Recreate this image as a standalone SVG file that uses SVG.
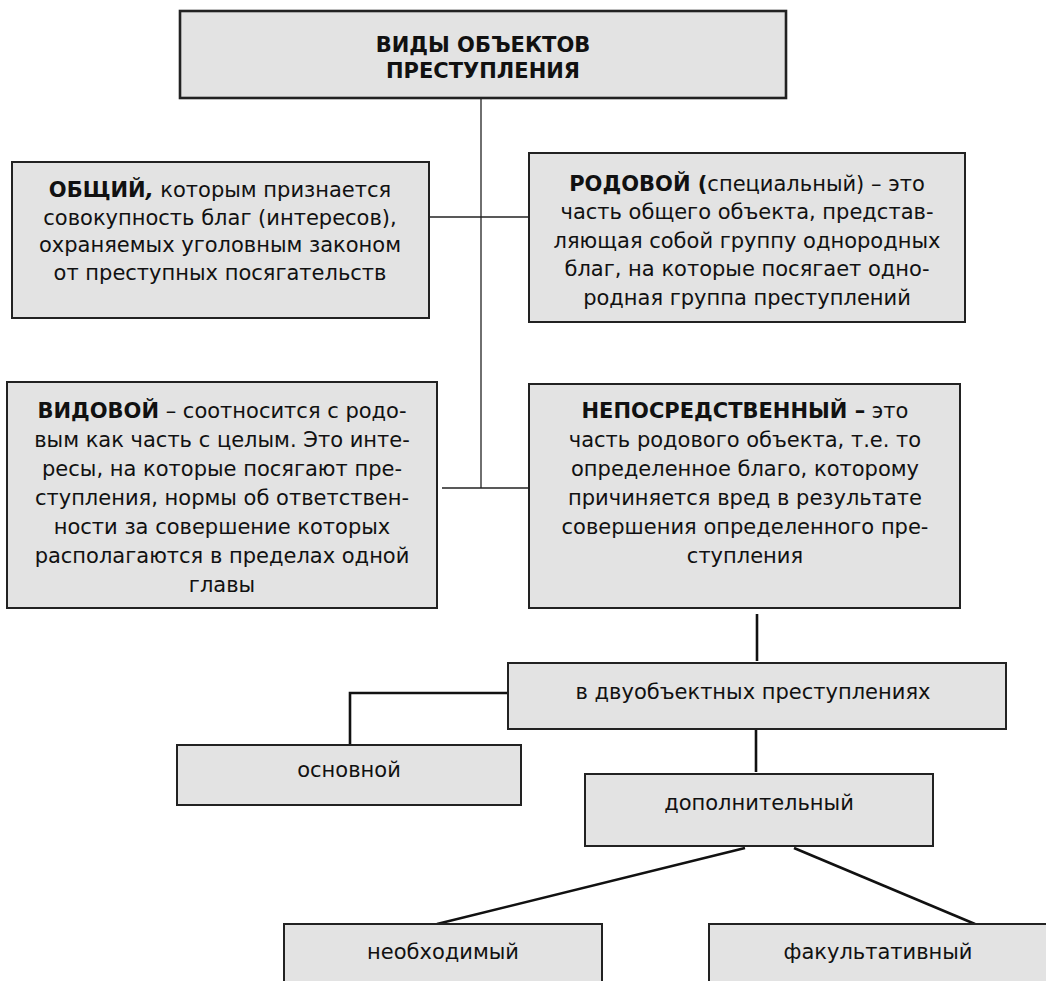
<svg xmlns="http://www.w3.org/2000/svg" width="1046" height="981" viewBox="0 0 1046 981">
<style>
.box{fill:#e3e3e3;stroke:#222;stroke-width:2}
.t{font-family:"DejaVu Sans","Liberation Sans",sans-serif;font-size:21px;fill:#111;text-anchor:middle}
.b{font-weight:bold}
.thin{stroke:#222;stroke-width:1.3;fill:none}
.thick{stroke:#111;stroke-width:2.6;fill:none}
</style>
<rect width="1046" height="981" fill="#fff"/>
<g id="connectors">
<line class="thin" x1="481" y1="98" x2="481" y2="488"/>
<line class="thin" x1="429" y1="217" x2="529" y2="217"/>
<line class="thin" x1="442" y1="488" x2="529" y2="488"/>
<line class="thick" x1="757" y1="614" x2="757" y2="661"/>
<polyline class="thick" points="517,693 350,693 350,745"/>
<line class="thick" x1="756" y1="729" x2="756" y2="772"/>
<line class="thick" x1="745" y1="848" x2="437" y2="924"/>
<line class="thick" x1="794" y1="848" x2="975" y2="924"/>
</g>
<g id="root">
<rect class="box" x="180" y="11" width="606" height="87" style="stroke-width:2.6"/>
<text class="t b" x="483" y="52">ВИДЫ ОБЪЕКТОВ</text>
<text class="t b" x="483" y="78">ПРЕСТУПЛЕНИЯ</text>
</g>
<g id="obshchiy">
<rect class="box" x="12" y="162" width="417" height="156"/>
<text class="t" x="220" y="197"><tspan class="b">ОБЩИЙ<tspan font-style="italic">,</tspan></tspan> которым признается</text>
<text class="t" x="220" y="225">совокупность благ (интересов),</text>
<text class="t" x="220" y="252">охраняемых уголовным законом</text>
<text class="t" x="220" y="280">от преступных посягательств</text>
</g>
<g id="rodovoy">
<rect class="box" x="529" y="153" width="436" height="169"/>
<text class="t" x="747" y="191"><tspan class="b">РОДОВОЙ (</tspan>специальный) – это</text>
<text class="t" x="747" y="219">часть общего объекта, представ-</text>
<text class="t" x="747" y="248">ляющая собой группу однородных</text>
<text class="t" x="747" y="276">благ, на которые посягает одно-</text>
<text class="t" x="747" y="305">родная группа преступлений</text>
</g>
<g id="vidovoy">
<rect class="box" x="7" y="382" width="430" height="226"/>
<text class="t" x="222" y="418"><tspan class="b">ВИДОВОЙ</tspan> – соотносится с родо-</text>
<text class="t" x="222" y="447">вым как часть с целым. Это инте-</text>
<text class="t" x="222" y="476">ресы, на которые посягают пре-</text>
<text class="t" x="222" y="505">ступления, нормы об ответствен-</text>
<text class="t" x="222" y="534">ности за совершение которых</text>
<text class="t" x="222" y="563">располагаются в пределах одной</text>
<text class="t" x="222" y="592">главы</text>
</g>
<g id="neposredstvenny">
<rect class="box" x="529" y="384" width="431" height="224"/>
<text class="t" x="745" y="418"><tspan class="b">НЕПОСРЕДСТВЕННЫЙ –</tspan> это</text>
<text class="t" x="745" y="447">часть родового объекта, т.е. то</text>
<text class="t" x="745" y="476">определенное благо, которому</text>
<text class="t" x="745" y="505">причиняется вред в результате</text>
<text class="t" x="745" y="534">совершения определенного пре-</text>
<text class="t" x="745" y="563">ступления</text>
</g>
<g id="dvuobektnye">
<rect class="box" x="508" y="663" width="498" height="66"/>
<text class="t" x="753" y="699">в двуобъектных преступлениях</text>
</g>
<g id="osnovnoy">
<rect class="box" x="177" y="745" width="344" height="60"/>
<text class="t" x="349" y="777">основной</text>
</g>
<g id="dopolnitelny">
<rect class="box" x="585" y="774" width="348" height="72"/>
<text class="t" x="759" y="810">дополнительный</text>
</g>
<g id="neobkhodimy">
<rect class="box" x="284" y="924" width="318" height="70"/>
<text class="t" x="443" y="959">необходимый</text>
</g>
<g id="fakultativny">
<rect class="box" x="709" y="924" width="345" height="70"/>
<text class="t" x="878" y="959">факультативный</text>
</g>
</svg>
